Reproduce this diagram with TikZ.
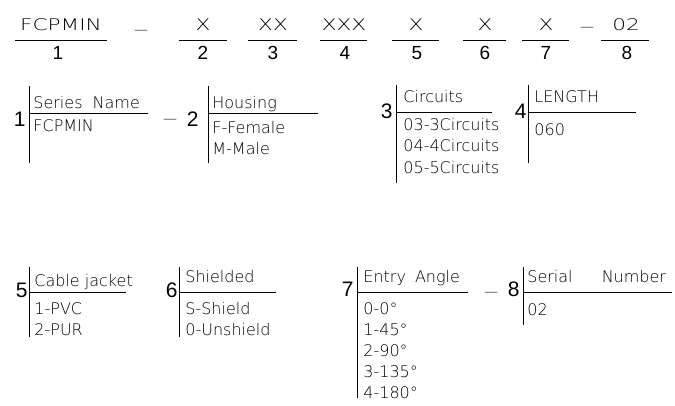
\documentclass[tikz,border=0pt]{standalone}
\usepackage{fontspec}
\newfontfamily\cadfont{DejaVu Sans ExtraLight}
\newfontfamily\numfont{Liberation Sans}
\begin{document}
\begin{tikzpicture}[x=1pt,y=-1pt,line width=.8pt,
    part/.style={font=\cadfont\fontsize{16}{16}\selectfont,inner sep=0pt,anchor=base},
    digit/.style={font=\numfont\fontsize{19}{19}\selectfont,inner sep=0pt,anchor=base},
    key/.style={font=\numfont\fontsize{21}{21}\selectfont,inner sep=0pt,anchor=base east},
    txt/.style={font=\cadfont\fontsize{16}{16}\selectfont,inner sep=0pt,anchor=base west},
    hyph/.style={font=\cadfont\fontsize{14}{14}\selectfont,inner sep=0pt,anchor=base}]

  \useasboundingbox (0,0) rectangle (675,406);

  % part number
  \node[part] (p1) at (61,31) {\scalebox{1.35}[1]{FCPMIN}};
  \node[digit] (n1) at (58,60) {1};
  \draw (15,40) -- (107,40);
  \node[hyph] (m1) at (141,35) {—};
  \node[part] (p2) at (203,31) {\scalebox{1.35}[1]{X}};
  \node[digit] (n2) at (203,60) {2};
  \draw (179,40) -- (227,40);
  \node[part] (p3) at (273,31) {\scalebox{1.35}[1]{XX}};
  \node[digit] (n3) at (273,60) {3};
  \draw (248,40) -- (297,40);
  \node[part] (p4) at (344,31) {\scalebox{1.35}[1]{XXX}};
  \node[digit] (n4) at (345,60) {4};
  \draw (320,40) -- (367,40);
  \node[part] (p5) at (416,31) {\scalebox{1.35}[1]{X}};
  \node[digit] (n5) at (417,60) {5};
  \draw (392,40) -- (439,40);
  \node[part] (p6) at (485,31) {\scalebox{1.35}[1]{X}};
  \node[digit] (n6) at (485,60) {6};
  \draw (463,40) -- (506,40);
  \node[part] (p7) at (546,31) {\scalebox{1.35}[1]{X}};
  \node[digit] (n7) at (546,60) {7};
  \draw (522,40) -- (569,40);
  \node[hyph] (m2) at (587,32) {—};
  \node[part] (p8) at (626,31) {\scalebox{1.35}[1]{02}};
  \node[digit] (n8) at (627,60) {8};
  \draw (601,40) -- (649,40);

  % 1 series
  \node[key] (k1) at (26,127) {1};
  \draw (29,86) -- (29,163);
  \draw (29,113) -- (148,113);
  \node[txt] (t1) at (33,109) {Series\hspace{5pt} Name};
  \node[txt] (b1) at (33,132) {FCPMIN};
  \node[hyph] (m3) at (170,124) {—};

  % 2 housing
  \node[key] (k2) at (199,127) {2};
  \draw (208,86) -- (208,163);
  \draw (208,113) -- (318,113);
  \node[txt] (t2) at (212,109) {Housing};
  \foreach \t [count=\i] in {F-Female,M-Male}
    \node[txt] (hs\i) at (212,{113+21*\i}) {\t};

  % 3 circuits
  \node[key] (k3) at (393,119) {3};
  \draw (396,85) -- (396,183);
  \draw (396,112) -- (492,112);
  \node[txt] (t3) at (403,103) {Circuits};
  \foreach \t [count=\i] in {03-3Circuits,04-4Circuits,05-5Circuits}
    \node[txt] (ci\i) at (403,{109+21.5*\i}) {\t};

  % 4 length
  \node[key] (k4) at (527,119) {4};
  \draw (528,85) -- (528,163);
  \draw (528,112) -- (636,112);
  \node[txt] (t4) at (534,103) {LENGTH};
  \node[txt] (b4) at (534,136) {060};

  % 5 jacket
  \node[key] (k5) at (28,298) {5};
  \draw (29,267) -- (29,337);
  \draw (29,292) -- (126,292);
  \node[txt] (t5) at (34,287) {Cable jacket};
  \foreach \t [count=\i] in {1-PVC,2-PUR}
    \node[txt] (ja\i) at (34,{293+21*\i}) {\t};

  % 6 shield
  \node[key] (k6) at (178,298) {6};
  \draw (179,267) -- (179,337);
  \draw (179,292) -- (276,292);
  \node[txt] (t6) at (185,283) {Shielded};
  \foreach \t [count=\i] in {S-Shield,0-Unshield}
    \node[txt] (sh\i) at (185,{293+21*\i}) {\t};

  % 7 angle
  \node[key] (k7) at (354,297) {7};
  \draw (357,267) -- (357,398);
  \draw (357,292) -- (468,292);
  \node[txt] (t7) at (363,283) {Entry\hspace{4pt} Angle};
  \foreach \t [count=\i] in {0-0°,1-45°,2-90°,3-135°,4-180°}
    \node[txt] (an\i) at (363,{293+21*\i}) {\t};
  \node[hyph] (m4) at (491,296) {—};

  % 8 serial
  \node[key] (k8) at (520,297) {8};
  \draw (523,267) -- (523,325);
  \draw (523,292) -- (672,292);
  \node[txt] (t8) at (527,283) {Serial\hspace{24pt} Number};
  \node[txt] (b8) at (527,315) {02};
\end{tikzpicture}
\end{document}
